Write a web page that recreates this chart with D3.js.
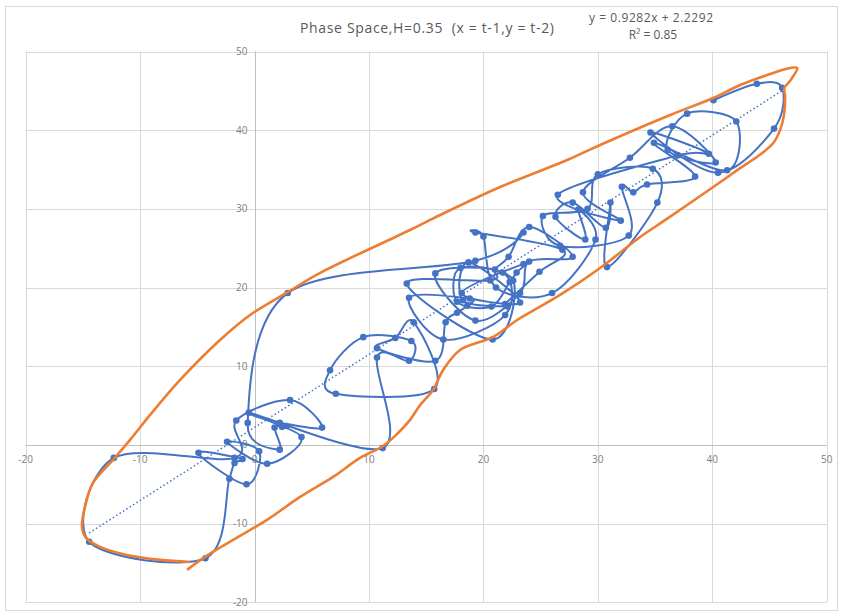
<!DOCTYPE html>
<html>
<head>
<meta charset="utf-8">
<script src="https://cdn.jsdelivr.net/npm/d3@7"></script>
<style>
  html, body { margin: 0; padding: 0; background: #fff; }
  svg { display: block; font-family: "Open Sans", "Liberation Sans", sans-serif; }
  .keep-space { white-space: pre; }
</style>
</head>
<body>
<svg id="chart" width="843" height="614"></svg>
<script>
// Phase space series (x = t-1, y = t-2), in drawing order
const phaseX = [23.5, 19.3, 2.9, -0.6, 2.2, 1.75, 2.4, 2.8, 2.2, 5.9,
  3.1, -1.6, -1.75, -12.3, -14.45, -4.3, -2.2, -1.75, -1.05, -4.9,
  -0.7, 0.4, -2.4, 1.1, 4.1, -0.5, 11.2, 10.7, 13.5, 13.7,
  9.5, 6.6, 7.1, 15.7, 13.9, 12.3, 10.7, 15.8, 16.7, 17.7,
  18.6, 18.8, 13.5, 16.5, 21.9, 21.7, 15.8, 19.3, 23.2, 24.0,
  27.8, 24.0, 22.2, 21.0, 20.6, 13.3, 20.8, 22.6, 18.0, 17.7,
  20.7, 22.3, 22.9, 23.5, 18.1, 23.2, 18.7, 18.2, 22.1,
  21.9, 24.9, 26.9, 19.3, 20.0, 21.1, 26.0, 29.8, 28.3, 28.9, 26.3,
  27.8, 30.7, 31.1, 30.8, 35.2, 34.8, 30.0, 29.1, 25.2, 26.7,
  32.7, 32.1, 33.1, 34.3, 38.5, 34.9, 41.3, 42.1, 37.8, 36.1,
  40.3, 36.5, 32.8, 28.7, 32.0, 26.5, 37.0, 39.7, 34.6, 40.5,
  45.4, 46.1, 43.9, 40.1];
const phaseY = [27.0, 23.4, 19.3, 2.8, -0.6, 2.2, 2.3, 2.4, 2.8, 2.2,
  5.7, 3.1, -1.65, -1.65, -12.3, -14.4, -4.3, -2.3, -1.8, -1.0,
  -5.0, -0.8, 0.4, -2.4, 1.0, 4.1, -0.4, 11.1, 10.7, 13.2,
  13.7, 9.5, 6.5, 7.1, 15.6, 13.6, 12.3, 10.7, 15.6, 16.8,
  17.7, 18.6, 18.7, 13.4, 16.5, 21.9, 21.8, 15.8, 19.3, 23.3,
  23.9, 27.7, 23.9, 22.3, 20.9, 20.5, 13.4, 20.9, 22.5, 18.2,
  17.6, 20.7, 21.9, 23.0, 19.3, 18.1, 23.2, 18.4, 17.6,
  17.9, 22.0, 24.8, 27.0, 26.5, 20.0, 19.3, 26.1, 29.9, 26.1, 29.0,
  30.8, 27.6, 30.8, 22.6, 30.8, 35.1, 34.4, 30.0, 29.1, 25.3,
  26.6, 32.8, 32.1, 33.1, 34.1, 38.4, 34.9, 41.1, 42.1, 37.5,
  35.9, 40.5, 36.5, 32.1, 28.5, 31.8, 36.8, 37.0, 39.7, 34.6,
  40.2, 45.4, 45.9, 43.8];

// Linear trendline shown on the chart
const trendSlope = 0.9282;
const trendIntercept = 2.2292;

// Hand-drawn orange outline (in data units)
const outlineX = [-5.90, -4.33, -1.88, 1.09, 3.98, 6.86, 9.22, 11.23, 12.54, 13.59,
  14.47, 15.60, 16.48, 17.96, 20.85, 22.95, 26.70, 30.20, 33.70, 35.90,
  41.83, 45.33, 46.12, 46.37, 46.29, 46.72, 47.42, 46.81, 45.33,
  42.44, 40.08, 36.32, 30.20, 27.32, 21.46, 16.22, 13.59, 5.73, 2.93,
  -0.39, -3.02, -6.51, -9.13, -10.88, -12.37, -14.12, -14.82, -15.08, -14.73,
  -13.51, -11.15, -8.26, -5.64];
const outlineY = [-15.88, -14.23, -12.07, -9.53, -6.61, -4.07, -1.65, -0.13, 1.52, 3.18,
  5.08, 6.99, 9.53, 12.07, 13.72, 15.88, 19.06, 22.49, 26.43, 28.60,
  34.56, 38.37, 40.91, 44.22, 45.36, 46.12, 47.90, 47.90, 47.27,
  45.74, 44.09, 41.93, 38.12, 36.21, 32.78, 29.22, 27.32, 21.86, 19.44,
  16.52, 13.34, 8.26, 3.81, 0.64, -1.91, -4.83, -7.88, -10.42, -11.82,
  -12.96, -13.98, -14.61, -14.87];

const xTicks = [-20, -10, 0, 10, 20, 30, 40, 50];
const yTicks = [-20, -10, 0, 10, 20, 30, 40, 50];

const title = "Phase Space,H=0.35  (x = t-1,y = t-2)";
const eqLine1 = "y = 0.9282x + 2.2292";
const eqLine2 = "R\u00b2 = 0.85";

const svg = d3.select("#chart");
const blue = "#4472C4";
const orange = "#ED7D31";

// chart area border
svg.append("rect")
  .attr("x", 5.5).attr("y", 6.5)
  .attr("width", 832).attr("height", 604)
  .attr("fill", "none")
  .attr("stroke", "#D9D9D9");

const x = d3.scaleLinear().domain([-20, 50]).range([25.7, 826.7]);
const y = d3.scaleLinear().domain([-20, 50]).range([602.3, 51.5]);

// gridlines
const grid = svg.append("g").attr("stroke", "#D9D9D9").attr("stroke-width", 1);
xTicks.forEach(t => {
  grid.append("line")
    .attr("x1", Math.round(x(t)) + 0.5).attr("x2", Math.round(x(t)) + 0.5)
    .attr("y1", y(50)).attr("y2", y(-20));
});
yTicks.forEach(t => {
  grid.append("line")
    .attr("x1", x(-20)).attr("x2", x(50))
    .attr("y1", Math.round(y(t)) + 0.5).attr("y2", Math.round(y(t)) + 0.5);
});

// axis lines crossing at zero
svg.append("line")
  .attr("x1", x(-20)).attr("x2", x(50))
  .attr("y1", Math.round(y(0)) + 0.5).attr("y2", Math.round(y(0)) + 0.5)
  .attr("stroke", "#BFBFBF");
svg.append("line")
  .attr("x1", Math.round(x(0)) + 0.5).attr("x2", Math.round(x(0)) + 0.5)
  .attr("y1", y(50)).attr("y2", y(-20))
  .attr("stroke", "#BFBFBF");

// tick labels
const labels = svg.append("g").attr("fill", "#808080").attr("font-size", 10);
xTicks.forEach(t => {
  labels.append("text")
    .attr("x", x(t)).attr("y", y(0) + 18)
    .attr("text-anchor", "middle")
    .text(t);
});
yTicks.forEach(t => {
  labels.append("text")
    .attr("x", x(0) - 7).attr("y", y(t) + 3.5)
    .attr("text-anchor", "end")
    .text(t);
});

// trendline (dotted)
const xMin = d3.min(phaseX), xMax = d3.max(phaseX);
svg.append("line")
  .attr("x1", x(xMin)).attr("y1", y(trendSlope * xMin + trendIntercept))
  .attr("x2", x(xMax)).attr("y2", y(trendSlope * xMax + trendIntercept))
  .attr("stroke", blue)
  .attr("stroke-width", 1.5)
  .attr("stroke-dasharray", "1.5,2.5");

// smoothed phase trajectory
const pts = phaseX.map((v, i) => [v, phaseY[i]]);
const line = d3.line()
  .x(d => x(d[0])).y(d => y(d[1]))
  .curve(d3.curveCardinal.tension(0));

svg.append("path")
  .datum(pts)
  .attr("d", line)
  .attr("fill", "none")
  .attr("stroke", blue)
  .attr("stroke-width", 2);

svg.append("g").selectAll("circle")
  .data(pts)
  .join("circle")
  .attr("cx", d => x(d[0]))
  .attr("cy", d => y(d[1]))
  .attr("r", 3.3)
  .attr("fill", blue);

// orange outline annotation
const outline = outlineX.map((v, i) => [v, outlineY[i]]);
svg.append("path")
  .datum(outline)
  .attr("d", d3.line().x(d => x(d[0])).y(d => y(d[1])).curve(d3.curveCatmullRom.alpha(0.5)))
  .attr("fill", "none")
  .attr("stroke", orange)
  .attr("stroke-width", 2.6)
  .attr("stroke-linejoin", "round");

// title and trendline label
svg.append("text")
  .attr("class", "keep-space")
  .attr("x", 427).attr("y", 33)
  .attr("text-anchor", "middle")
  .attr("font-size", 14)
  .attr("fill", "#595959")
  .attr("textLength", 254)
  .text(title);

svg.append("text")
  .attr("x", 651).attr("y", 22)
  .attr("text-anchor", "middle")
  .attr("font-size", 12)
  .attr("fill", "#595959")
  .attr("textLength", 124)
  .text(eqLine1);

svg.append("text")
  .attr("x", 653).attr("y", 39)
  .attr("text-anchor", "middle")
  .attr("font-size", 12)
  .attr("fill", "#595959")
  .text(eqLine2);
</script>
</body>
</html>
